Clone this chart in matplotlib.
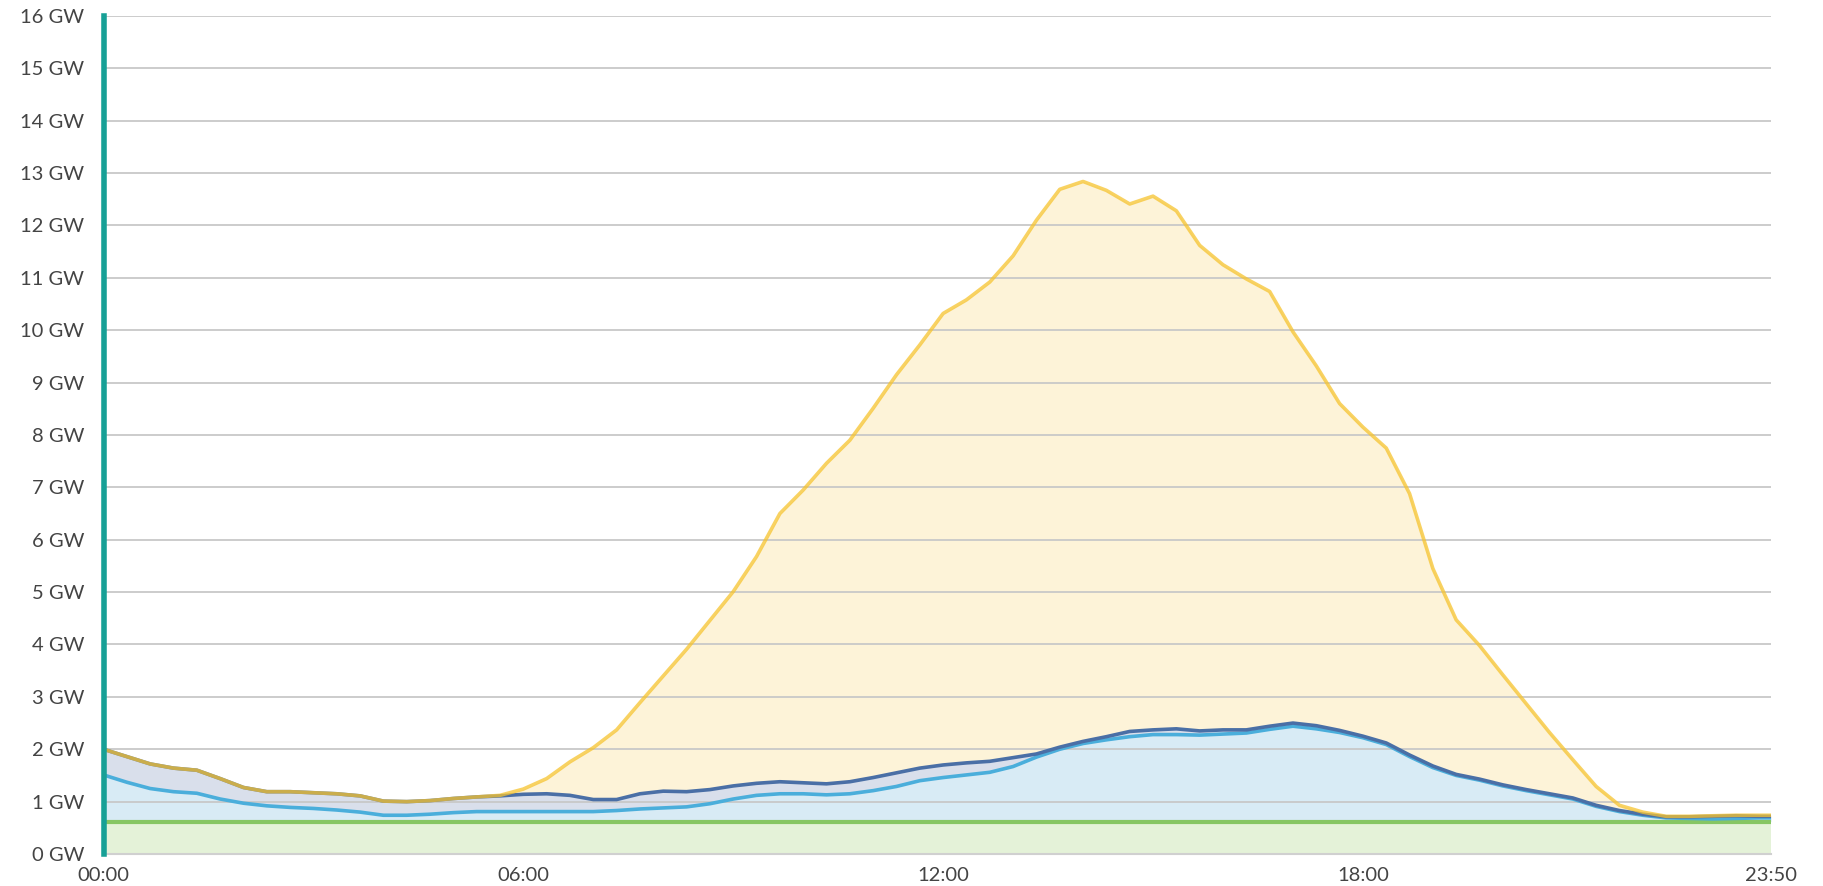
import numpy as np
import matplotlib.pyplot as plt
from matplotlib.ticker import FixedLocator

# minutes since midnight, sampled every 20 min plus the last point at 23:50
minutes = list(range(0, 1440, 20)) + [1430]

base_gw = [0.62] * len(minutes)

light_blue_gw = [
    1.51, 1.37, 1.25, 1.19, 1.16, 1.05, 0.97, 0.92, 0.89, 0.87, 0.84, 0.80,
    0.74, 0.74, 0.76, 0.79, 0.81, 0.81, 0.81, 0.81, 0.81, 0.81, 0.83, 0.86,
    0.88, 0.90, 0.96, 1.05, 1.12, 1.15, 1.15, 1.13, 1.15, 1.21, 1.29, 1.40,
    1.46, 1.51, 1.56, 1.67, 1.85, 2.00, 2.11, 2.18, 2.24, 2.28, 2.28, 2.27,
    2.29, 2.31, 2.38, 2.44, 2.39, 2.32, 2.22, 2.09, 1.86, 1.65, 1.50, 1.41,
    1.30, 1.21, 1.13, 1.05, 0.91, 0.81, 0.74, 0.69, 0.68, 0.67, 0.68, 0.69,
    0.69,
]

navy_gw = [
    2.00, 1.86, 1.72, 1.64, 1.60, 1.44, 1.27, 1.19, 1.19, 1.17, 1.15, 1.11,
    1.01, 1.00, 1.02, 1.06, 1.09, 1.11, 1.14, 1.15, 1.12, 1.04, 1.04, 1.15,
    1.20, 1.19, 1.23, 1.30, 1.35, 1.38, 1.36, 1.34, 1.38, 1.46, 1.55, 1.64,
    1.70, 1.74, 1.77, 1.84, 1.91, 2.04, 2.15, 2.24, 2.34, 2.37, 2.39, 2.35,
    2.37, 2.37, 2.44, 2.50, 2.45, 2.36, 2.25, 2.12, 1.89, 1.68, 1.52, 1.43,
    1.32, 1.23, 1.15, 1.07, 0.93, 0.83, 0.76, 0.71, 0.71, 0.72, 0.73, 0.72,
    0.72,
]

solar_top_gw = [
    2.00, 1.86, 1.72, 1.64, 1.60, 1.44, 1.27, 1.19, 1.19, 1.17, 1.15, 1.11,
    1.01, 1.00, 1.02, 1.06, 1.09, 1.12, 1.24, 1.44, 1.76, 2.03, 2.37, 2.89,
    3.40, 3.91, 4.46, 5.01, 5.68, 6.50, 6.95, 7.46, 7.90, 8.51, 9.15, 9.72,
    10.32, 10.58, 10.92, 11.42, 12.10, 12.69, 12.84, 12.67, 12.41, 12.56, 12.28, 11.62,
    11.25, 10.98, 10.74, 9.97, 9.32, 8.60, 8.15, 7.75, 6.88, 5.45, 4.47, 3.98,
    3.42, 2.87, 2.32, 1.80, 1.29, 0.93, 0.80, 0.72, 0.72, 0.73, 0.74, 0.74,
    0.74,
]

x_ticks = [0, 360, 720, 1080, 1430]
x_tick_labels = ["00:00", "06:00", "12:00", "18:00", "23:50"]
y_ticks = list(range(0, 17))

plt.rcParams['font.family'] = ['Lato', 'DejaVu Sans']

fig = plt.figure(figsize=(18.23, 8.86), dpi=100)
ax = fig.add_axes([0.0568, 0.0361, 0.9147, 0.9459])

t = np.array(minutes)
ax.fill_between(t, 0, base_gw, color='#e4f2d8', lw=0)
ax.fill_between(t, base_gw, light_blue_gw, color='#d8ebf5', lw=0)
ax.fill_between(t, light_blue_gw, navy_gw, color='#d9dfeb', lw=0)
ax.fill_between(t, navy_gw, solar_top_gw, color='#fdf3d8', lw=0)

ax.plot(t, base_gw, color='#86c663', lw=3, zorder=3)
ax.plot(t, light_blue_gw, color='#4aaedb', lw=2.6, zorder=3)
ax.plot(t, navy_gw, color='#4a6fa6', lw=2.6, zorder=3)
ax.plot(t, solar_top_gw, color='#f6c32e', lw=2.6, alpha=0.75, zorder=4)

ax.set_xlim(0, 1430)
ax.set_ylim(0, 16)
ax.xaxis.set_major_locator(FixedLocator(x_ticks))
ax.set_xticklabels(x_tick_labels)
ax.yaxis.set_major_locator(FixedLocator(y_ticks))
ax.set_yticklabels([f"{v} GW" for v in y_ticks])

ax.set_axisbelow('line')
ax.grid(axis='y', color='#c8c8c8', lw=1.3)
ax.tick_params(length=0, labelsize=14.5, colors='#444444')
ax.tick_params(axis='y', pad=14)
ax.tick_params(axis='x', pad=9)

for side in ['top', 'right']:
    ax.spines[side].set_visible(False)
ax.spines['bottom'].set_color('#d0d0d0')
ax.spines['bottom'].set_linewidth(1.5)
ax.spines['left'].set_color('#17a096')
ax.spines['left'].set_linewidth(4)
ax.spines['left'].set_zorder(5)

fig.savefig('out.png', dpi=100)
